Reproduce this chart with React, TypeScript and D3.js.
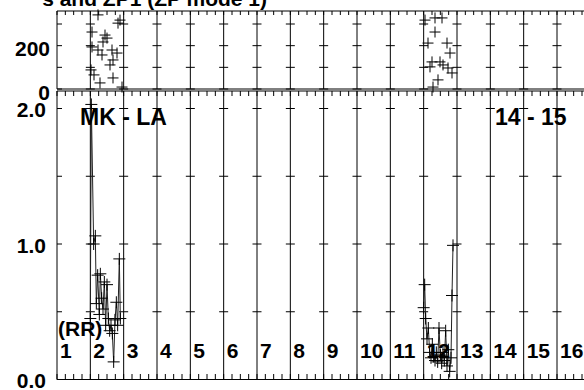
import React from "react";
import { scaleLinear, range, line } from "d3";

// top panel: direction (deg) scatter
const dirDays1 = [2.23, 2.89, 2.83, 2.05, 2.44, 2.50, 2.38, 2.05, 2.23, 2.65, 2.80, 2.35, 2.68, 2.59, 2.02, 2.11, 2.68, 2.29, 2.95];
const dirVals1 = [342, 318, 304, 263, 249, 235, 217, 194, 180, 180, 166, 157, 134, 111, 88, 65, 51, 28, 9];
const dirDays2 = [12.04, 12.34, 12.55, 12.34, 12.13, 12.70, 12.79, 12.25, 12.49, 12.58, 12.73, 12.85, 12.43, 12.28, 12.19];
const dirVals2 = [318, 328, 328, 263, 212, 212, 166, 125, 125, 111, 97, 74, 42, 9, 102];

// bottom panel: ratio series
const rrDays1 = [2.0, 2.03, 2.1, 2.15, 2.18, 2.22, 2.27, 2.3, 2.34, 2.38, 2.42, 2.46, 2.5, 2.54, 2.58, 2.62, 2.66, 2.7, 2.74, 2.78, 2.82, 2.87, 2.9];
const rrVals1 = [0.45, 2.03, 1.0, 1.06, 0.56, 0.77, 0.48, 0.78, 0.6, 0.52, 0.72, 0.4, 0.7, 0.45, 0.36, 0.4, 0.34, 0.13, 0.44, 0.57, 0.4, 0.89, 0.45];
const rrDays2 = [12.0, 12.03, 12.06, 12.1, 12.14, 12.18, 12.22, 12.26, 12.3, 12.34, 12.38, 12.42, 12.46, 12.5, 12.54, 12.58, 12.62, 12.66, 12.7, 12.74, 12.78, 12.82, 12.85, 12.88];
const rrVals2 = [0.53, 0.7, 0.45, 0.3, 0.38, 0.2, 0.16, 0.26, 0.17, 0.14, 0.2, 0.13, 0.38, 0.18, 0.12, 0.2, 0.14, 0.36, 0.1, 0.22, 0.06, 0.16, 0.62, 0.99];

const dayLabels = ["1", "2", "3", "4", "5", "6", "7", "8", "9", "10", "11", "12", "13", "14", "15", "16"];
const topTicks = [0, 100, 200, 300];
const topLabels = [0, 200];
const botTicks = [0.5, 1.0, 1.5, 2.0];
const botLabels = ["0.0", "1.0", "2.0"];

const W = 584;
const H = 390;
const font = "'Liberation Sans', Arial, sans-serif";

export default function App() {
  const x = scaleLinear().domain([1, 17.5]).range([57, 607]);
  const yTop = scaleLinear().domain([0, 360]).range([89, 11]);
  const yBot = scaleLinear().domain([0, 1]).range([379.5, 244]);
  const botTop = 91;

  const gridDays = range(2, 18);
  const quarters = range(1, 17.5, 0.25);

  const plus = (cx: number, cy: number, k: string, s = 5.5) => (
    <path key={k} d={`M${cx - s},${cy}H${cx + s}M${cx},${cy - s}V${cy + s}`} stroke="#000" strokeWidth={1} fill="none" />
  );

  const mkLine = (days: number[], vals: number[]) =>
    line<number>()
      .x((_, i) => x(days[i]))
      .y((v) => yBot(v))(vals) as string;

  return (
    <svg width={W} height={H} style={{ position: "absolute", left: 0, top: 0, background: "#fff" }} fontFamily={font} fontWeight="bold">
      {/* title (cut at top) */}
      <text x={267} y={6} textAnchor="end" fontSize={21}>s and ZP1 (ZP mode 1)</text>

      {/* top panel frame */}
      <line x1={57} x2={W} y1={11} y2={11} stroke="#000" />
      <line x1={57} x2={W} y1={89} y2={89} stroke="#000" />
      <line x1={57} x2={57} y1={11} y2={89} stroke="#000" />
      {/* bottom panel frame */}
      <line x1={57} x2={W} y1={botTop} y2={botTop} stroke="#000" />
      <line x1={57} x2={W} y1={379.5} y2={379.5} stroke="#000" />
      <line x1={57} x2={57} y1={botTop} y2={379.5} stroke="#000" />

      {/* vertical grid lines */}
      {gridDays.map((d) => (
        <g key={"g" + d}>
          <line x1={x(d)} x2={x(d)} y1={11} y2={89} stroke="#000" />
          <line x1={x(d)} x2={x(d)} y1={botTop} y2={379.5} stroke="#000" />
        </g>
      ))}

      {/* quarter-day minor ticks */}
      {quarters.map((q) => (
        <g key={"q" + q}>
          <line x1={x(q)} x2={x(q)} y1={11} y2={15} stroke="#000" />
          <line x1={x(q)} x2={x(q)} y1={botTop} y2={botTop + 5} stroke="#000" />
          <line x1={x(q)} x2={x(q)} y1={379.5} y2={374} stroke="#000" />
        </g>
      ))}

      {/* y ticks across grid lines */}
      {topTicks.map((t) => (
        <g key={"tt" + t}>
          <line x1={57} x2={62} y1={yTop(t)} y2={yTop(t)} stroke="#000" />
          {gridDays.map((d) => (
            <line key={d} x1={x(d) - 4.5} x2={x(d) + 4.5} y1={yTop(t)} y2={yTop(t)} stroke="#000" />
          ))}
        </g>
      ))}
      {botTicks.map((t) => (
        <g key={"bt" + t}>
          <line x1={57} x2={62} y1={yBot(t)} y2={yBot(t)} stroke="#000" />
          {gridDays.map((d) => (
            <line key={d} x1={x(d) - 4.5} x2={x(d) + 4.5} y1={yBot(t)} y2={yBot(t)} stroke="#000" />
          ))}
        </g>
      ))}

      {/* y labels */}
      {topLabels.map((t) => (
        <text key={"tl" + t} x={50} y={yTop(t) + 3} textAnchor="end" dominantBaseline="central" fontSize={21}>{t}</text>
      ))}
      {botLabels.map((t) => (
        <text key={"bl" + t} x={46} y={yBot(+t) + 1} textAnchor="end" dominantBaseline="central" fontSize={21}>{t}</text>
      ))}

      {/* top scatter */}
      {dirVals1.map((v, i) => plus(x(dirDays1[i]), yTop(v), "a" + i, 5.5))}
      {dirVals2.map((v, i) => plus(x(dirDays2[i]), yTop(v), "b" + i, 5.5))}

      {/* bottom series */}
      <path d={mkLine(rrDays1, rrVals1)} fill="none" stroke="#222" strokeWidth={1} />
      <path d={mkLine(rrDays2, rrVals2)} fill="none" stroke="#222" strokeWidth={1} />
      {rrVals1.map((v, i) => plus(x(rrDays1[i]), yBot(v), "c" + i, 6))}
      {rrVals2.map((v, i) => plus(x(rrDays2[i]), yBot(v), "d" + i, 6))}

      {/* day labels */}
      {dayLabels.map((l, i) => (
        <text key={"dl" + l} x={x(i + 1) + 3} y={358} fontSize={21}>{l}</text>
      ))}
      <text x={58} y={336} fontSize={21}>(RR)</text>
      <text x={80} y={125} fontSize={23}>MK - LA</text>
      <text x={495} y={125} fontSize={23}>14 - 15</text>
    </svg>
  );
}
